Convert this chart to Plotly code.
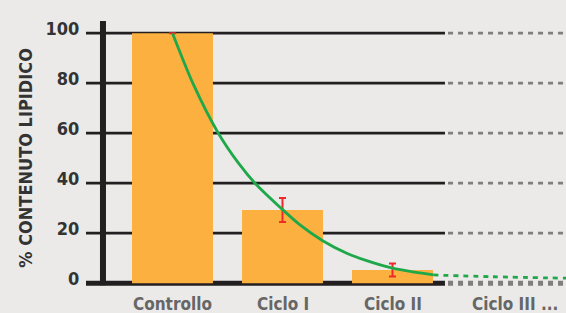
import plotly.graph_objects as go

# ---- data ----
categories = ["Controllo", "Ciclo I", "Ciclo II", "Ciclo III ..."]
bar_pos = [0, 1, 2]
bar_values = [100, 29.3, 5.3]
bar_errors = [0, 4.8, 2.6]
y_ticks = [0, 20, 40, 60, 80, 100]

curve_t = [0, 0.19, 0.41, 0.6, 0.75, 0.977, 1.159, 1.365, 1.584, 1.765, 2.0, 2.2, 2.37]
curve_v = [100, 79.5, 60.5, 48, 40, 30.4, 23.3, 17.0, 12.0, 9.0, 6.0, 4.4, 3.3]
trend_t = [2.37, 2.9, 3.58]
trend_v = [3.3, 2.6, 2.0]

# ---- style ----
BG = "#ebeae8"
BAR = "#fbb040"
GREEN = "#1fa84a"
RED = "#ee2a2a"
BLACK = "#231f20"
GRAY = "#7f7f7f"
X_RANGE = [-0.7864, 3.5773]
Y_RANGE = [-1.92, 107.68]
SOLID_END = 2.477
DASH_START = 2.505
FONT = "DejaVu Sans Condensed"

fig = go.Figure()

fig.add_trace(go.Bar(
    x=bar_pos, y=bar_values, width=0.736,
    marker=dict(color=BAR, line=dict(width=0)),
    error_y=dict(type="data", array=bar_errors, color=RED, thickness=2, width=3.5),
    hoverinfo="skip",
))

fig.add_trace(go.Scatter(
    x=curve_t, y=curve_v, mode="lines",
    line=dict(color=GREEN, width=2.8, shape="spline", smoothing=0.8),
    hoverinfo="skip",
))
fig.add_trace(go.Scatter(
    x=trend_t, y=trend_v, mode="lines",
    line=dict(color=GREEN, width=2.8, dash="5px,5px", shape="spline"),
    hoverinfo="skip",
))

shapes = []
for v in y_ticks:
    w = 5 if v == 0 else 2.8
    shapes.append(dict(type="line", xref="x", yref="y", layer="below",
                       x0=X_RANGE[0], x1=SOLID_END, y0=v, y1=v,
                       line=dict(color=BLACK, width=w)))
    shapes.append(dict(type="line", xref="x", yref="y", layer="below",
                       x0=DASH_START, x1=X_RANGE[1], y0=v, y1=v,
                       line=dict(color=GRAY, width=w, dash="5px,5px")))
# vertical axis line
shapes.append(dict(type="line", xref="x", yref="y", layer="above",
                   x0=-0.632, x1=-0.632, y0=-0.8, y1=104.9,
                   line=dict(color=BLACK, width=6)))

annotations = []
for i, c in enumerate(categories):
    annotations.append(dict(
        x=i, xref="x", xanchor="center", y=0, yref="paper", yanchor="top", yshift=-4,
        xshift=12 if i == 3 else 0,
        text=c, showarrow=False,
        font=dict(family=FONT, size=17, color="#666666", weight="bold"),
    ))
annotations.append(dict(
    x=0, xref="paper", xanchor="center", xshift=-60.5, y=50, yref="y", yanchor="middle",
    text="% CONTENUTO LIPIDICO", textangle=-90, showarrow=False,
    font=dict(family=FONT, size=18, color="#333333", weight="bold"),
))

fig.update_layout(
    width=566, height=313,
    margin=dict(l=86, r=0, t=14, b=25),
    paper_bgcolor=BG, plot_bgcolor=BG,
    showlegend=False,
    shapes=shapes, annotations=annotations,
    xaxis=dict(range=X_RANGE, showgrid=False, zeroline=False, showline=False,
               showticklabels=False, ticks=""),
    yaxis=dict(range=Y_RANGE, showgrid=False, zeroline=False, showline=False,
               tickvals=y_ticks, ticktext=[str(v) for v in y_ticks],
               ticks="outside", ticklen=0, ticklabelstandoff=2, ticklabelshift=-5,
               tickfont=dict(family=FONT, size=18, color="#333333", weight="bold")),
)

fig.write_html(
    "out.html",
    config={"displayModeBar": False},
    post_script="document.body.style.margin='0';document.body.style.overflow='hidden';",
)
